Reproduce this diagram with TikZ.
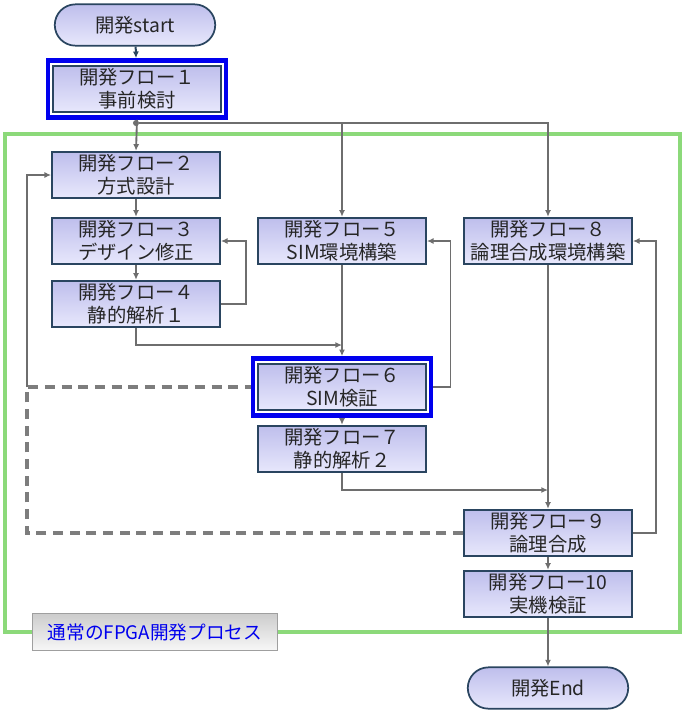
\documentclass[tikz,border=0pt]{standalone}
\usepackage{fontspec}
\setmainfont{Noto Sans CJK JP}
\usetikzlibrary{shapes.misc,fit,arrows.meta}

\definecolor{lavtop}{HTML}{BEBEEC}
\definecolor{lavbot}{HTML}{E8E8FC}
\definecolor{boxline}{HTML}{2A4560}
\definecolor{arrowgray}{HTML}{6E6E6E}
\definecolor{framegreen}{HTML}{8CD97A}
\definecolor{hlblue}{HTML}{0000EE}

\tikzset{
    flowbox/.style={rectangle, draw=boxline, line width=1.3pt, top color=lavtop, bottom color=lavbot,
        minimum width=126pt, minimum height=35pt, align=center, inner sep=1pt,
        font=\fontsize{14.5}{17}\selectfont, text=black!85},
    pill/.style={rounded rectangle, draw=boxline, line width=1.3pt, top color=lavtop, bottom color=lavbot,
        minimum width=127pt, minimum height=31pt, font=\fontsize{14.5}{17}\selectfont, text=black!85},
    hlframe/.style={draw=hlblue, line width=3.5pt, inner sep=3.2pt},
    flow/.style={draw=arrowgray, line width=1.4pt, -{Latex[length=5pt,width=4.5pt]}},
    dashline/.style={draw=arrowgray!90, line width=2.4pt, dash pattern=on 7.5pt off 5pt},
}

\begin{document}
\begin{tikzpicture}[x=0.75pt,y=-0.75pt]
    \useasboundingbox (0,0) rectangle (684,718);

    % process frame
    \draw[framegreen, line width=3pt] (5,134) rectangle (680,632);

    % nodes
    \node[pill] (devstart) at (135,25) {開発start};
    \node[flowbox] (f1) at (137,89) {開発フロー１\\事前検討};
    \node[fit=(f1), hlframe] (f1hl) {};
    \node[flowbox] (f2) at (136,175) {開発フロー２\\方式設計};
    \node[flowbox] (f3) at (136,241) {開発フロー３\\デザイン修正};
    \node[flowbox] (f4) at (136,304) {開発フロー４\\静的解析１};
    \node[flowbox] (f5) at (342,241) {開発フロー５\\SIM環境構築};
    \node[flowbox] (f8) at (548,241) {開発フロー８\\論理合成環境構築};
    \node[flowbox] (f6) at (342,387) {開発フロー６\\SIM検証};
    \node[fit=(f6), hlframe] (f6hl) {};
    \node[flowbox] (f7) at (342,449) {開発フロー７\\静的解析２};
    \node[flowbox] (f9) at (548,533) {開発フロー９\\論理合成};
    \node[flowbox] (f10) at (548,594) {開発フロー10\\実機検証};
    \node[pill] (devend) at (548,688) {開発End};
    \node[rectangle, draw=gray!75, line width=1pt, top color=gray!40, bottom color=gray!6,
        minimum width=184pt, minimum height=28pt, text=hlblue,
        font=\fontsize{14}{16}\selectfont] (proc) at (155,632) {通常のFPGA開発プロセス};

    \node[circle, fill=arrowgray, inner sep=1.6pt] (j1) at (136,123) {};
    \coordinate (m6) at (342,345);
    \coordinate (m9) at (548,490);
    \coordinate (fb) at (27,387);

    % connectors
    \draw[boxline, line width=1.5pt, -{Latex[length=5pt,width=4.5pt]}] (devstart) -- (f1hl);
    \draw[flow] (f1hl.south) -- (f2.north);
    \draw[flow] (j1) -| (f5.north);
    \draw[flow] (j1) -| (f8.north);
    \draw[flow] (f2) -- (f3);
    \draw[flow] (f3) -- (f4);
    \draw[flow] (f4.east) -- ++(25,0) |- (f3.east);
    \draw[flow] (f4.south) |- (m6);
    \draw[flow] (f5.south) -- (f6hl.north);
    \draw[flow] (f6hl.east) -- ++(17,0) |- (f5.east);
    \draw[flow] (f6hl) -- (f7);
    \draw[flow] (f7.south) |- (m9);
    \draw[flow] (f8.south) -- (f9.north);
    \draw[flow] (f9.east) -- ++(23,0) |- (f8.east);
    \draw[flow] (f9) -- (f10);
    \draw[flow] (f10) -- (devend);

    % feedback
    \draw[flow] (fb) |- (f2.west);
    \draw[dashline] (f9.west) -| (fb) -- (f6hl.west);
\end{tikzpicture}
\end{document}
